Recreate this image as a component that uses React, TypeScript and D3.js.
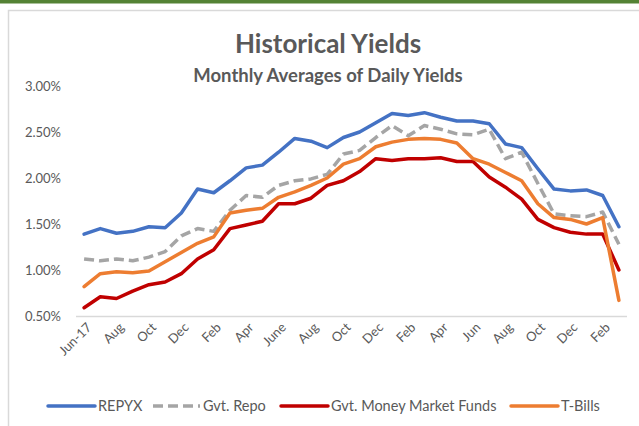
import React from 'react';
import * as d3 from 'd3';

// Jun-17 .. Mar-20, monthly
const months = [
  'Jun-17', 'Jul-17', 'Aug-17', 'Sep-17', 'Oct-17', 'Nov-17', 'Dec-17',
  'Jan-18', 'Feb-18', 'Mar-18', 'Apr-18', 'May-18', 'Jun-18', 'Jul-18', 'Aug-18', 'Sep-18', 'Oct-18', 'Nov-18', 'Dec-18',
  'Jan-19', 'Feb-19', 'Mar-19', 'Apr-19', 'May-19', 'Jun-19', 'Jul-19', 'Aug-19', 'Sep-19', 'Oct-19', 'Nov-19', 'Dec-19',
  'Jan-20', 'Feb-20', 'Mar-20',
];

// one label every second month, as on the chart
const tickLabels = [
  'Jun-17', 'Aug', 'Oct', 'Dec', 'Feb', 'Apr', 'June', 'Aug', 'Oct',
  'Dec', 'Feb', 'Apr', 'Jun', 'Aug', 'Oct', 'Dec', 'Feb',
];

const yTicks = [0.005, 0.01, 0.015, 0.02, 0.025, 0.03];

// yields in percent
const repyx = [
  1.39, 1.45, 1.40, 1.42, 1.47, 1.46, 1.62, 1.88, 1.84, 1.97, 2.11, 2.14, 2.28, 2.43, 2.40, 2.33, 2.44,
  2.50, 2.60, 2.70, 2.68, 2.71, 2.66, 2.62, 2.62, 2.59, 2.37, 2.33, 2.10, 1.88, 1.86, 1.87, 1.81, 1.47,
];
const govRepo = [
  1.12, 1.10, 1.12, 1.10, 1.14, 1.20, 1.37, 1.45, 1.42, 1.65, 1.81, 1.79, 1.92, 1.97, 1.99, 2.04, 2.26,
  2.30, 2.44, 2.57, 2.46, 2.57, 2.53, 2.48, 2.47, 2.53, 2.21, 2.28, 1.94, 1.61, 1.59, 1.58, 1.63, 1.28,
];
const govMmf = [
  0.59, 0.71, 0.69, 0.77, 0.84, 0.87, 0.96, 1.12, 1.22, 1.45, 1.49, 1.53, 1.72, 1.72, 1.78, 1.92, 1.97,
  2.07, 2.21, 2.19, 2.21, 2.21, 2.22, 2.18, 2.18, 2.01, 1.90, 1.77, 1.55, 1.46, 1.41, 1.39, 1.39, 1.00,
];
const tBills = [
  0.82, 0.96, 0.98, 0.97, 0.99, 1.09, 1.19, 1.29, 1.36, 1.62, 1.65, 1.67, 1.79, 1.85, 1.92, 2.00, 2.15,
  2.21, 2.34, 2.39, 2.42, 2.43, 2.42, 2.38, 2.21, 2.15, 2.06, 1.97, 1.72, 1.57, 1.55, 1.50, 1.57, 0.67,
];

const seriesNames = ['REPYX', 'Gvt. Repo', 'Gvt. Money Market Funds', 'T-Bills'];
const seriesData = [repyx, govRepo, govMmf, tBills];
const colors = ['#4472C4', '#A5A5A5', '#C00000', '#ED7D31'];
const dashes = [null, '10,5', null, null];

const W = 639;
const H = 426;
const FONT = 'Lato, "Open Sans", sans-serif';

export default function App() {
  const x = d3.scaleBand<number>()
    .domain(months.map((d, i) => i))
    .range([76, 627])
    .padding(0);
  const cx = (i: number) => (x(i) as number) + x.bandwidth() / 2;

  const y = d3.scaleLinear().domain([0.005, 0.03]).range([316, 86]);
  const fmt = d3.format('.2%');

  const line = d3.line<number>()
    .x((d, i) => cx(i))
    .y((d) => y(d / 100));

  // legend layout: where each entry's line starts
  const legendX = [48, 153, 281, 511];

  return (
    <svg width={W} height={H} style={{ position: 'absolute', left: 0, top: 0 }} fontFamily={FONT}>
      <rect x={0} y={0} width={W} height={H} fill="#fff" />
      <rect x={0} y={0} width={W} height={3.5} fill="#548235" />
      <rect x={8.5} y={10.5} width={700} height={500} fill="none" stroke="#d9d9d9" strokeWidth={1.5} />

      <text x={328} y={53} textAnchor="middle" fontSize={26} fontWeight="bold" fill="#595959">
        Historical Yields
      </text>
      <text x={328} y={82} textAnchor="middle" fontSize={18.5} fontWeight="bold" fill="#595959">
        Monthly Averages of Daily Yields
      </text>

      {/* y axis labels */}
      {yTicks.map((t) => (
        <text key={t} x={61} y={y(t)} dy="0.35em" textAnchor="end" fontSize={13} fill="#595959">
          {fmt(t)}
        </text>
      ))}

      {/* x axis */}
      <line x1={76} x2={627} y1={316.5} y2={316.5} stroke="#d9d9d9" strokeWidth={1.5} />
      {tickLabels.map((lab, k) => {
        const i = k * 2;
        return (
          <text
            key={i}
            transform={`translate(${cx(i) + 5},${325}) rotate(-45)`}
            textAnchor="end"
            dy="0.35em"
            fontSize={13}
            fill="#595959"
          >
            {lab}
          </text>
        );
      })}

      {/* series */}
      {seriesData.map((s, k) => (
        <path
          key={seriesNames[k]}
          d={line(s) || ''}
          fill="none"
          stroke={colors[k]}
          strokeWidth={3.5}
          strokeDasharray={dashes[k] || undefined}
          strokeLinejoin="round"
          strokeLinecap={dashes[k] ? 'butt' : 'round'}
        />
      ))}

      {/* legend */}
      {seriesNames.map((name, k) => (
        <g key={name} transform={`translate(${legendX[k]},406)`}>
          <line
            x1={0}
            x2={47}
            y1={0}
            y2={0}
            stroke={colors[k]}
            strokeWidth={3.5}
            strokeDasharray={dashes[k] || undefined}
            strokeLinecap={dashes[k] ? 'butt' : 'round'}
          />
          <text x={50} y={0} dy="0.35em" fontSize={14.5} fill="#595959">
            {name}
          </text>
        </g>
      ))}
    </svg>
  );
}
